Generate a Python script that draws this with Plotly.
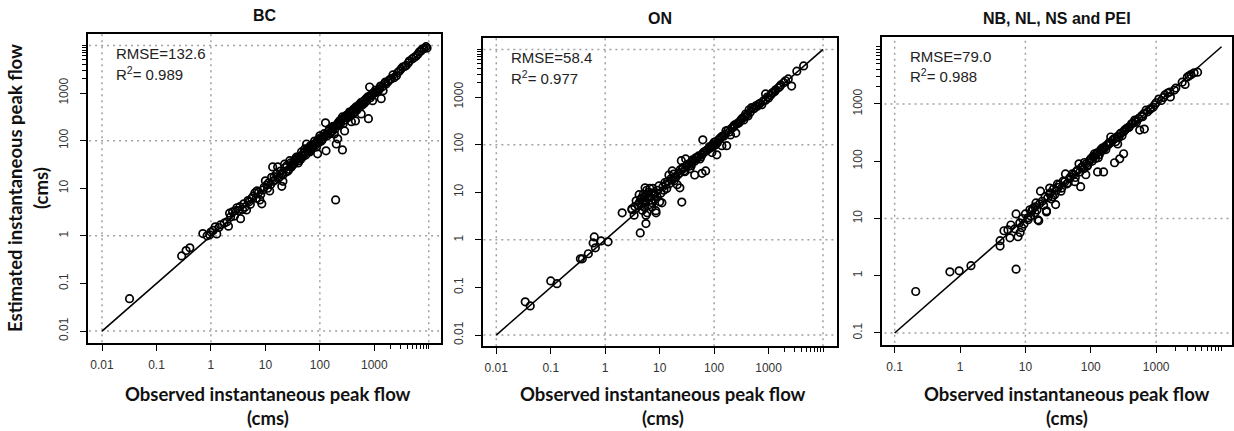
import plotly.graph_objects as go

W, H = 1234, 431

# ---------------- data ----------------
bc_obs = [0.032, 0.29, 0.35, 0.41, 0.71, 0.85, 0.95, 1.0, 1.1, 1.2, 1.28, 1.4, 1.75, 1.97, 2.1, 2.2, 2.5, 2.7,
          3.0, 3.2, 3.5, 3.4, 3.8, 4.0, 4.5, 5.0, 5.6, 6.4, 7.0, 7.9, 8.6, 9.0, 10.6, 10, 12, 12.5, 13, 13.6,
          15, 16, 16.8, 18, 20, 20, 21, 22.5, 24, 26, 28, 30, 32, 35, 37, 40, 42, 46, 48, 53, 55, 57, 60, 65,
          70, 75, 80, 87, 91, 95, 100, 107, 115, 127, 130, 140, 150, 160, 170, 185, 195, 200, 200, 213, 230,
          240, 260, 260, 285, 300, 320, 350, 380, 400, 430, 450, 460, 500, 530, 575, 610, 650, 710, 780, 820,
          870, 930, 1000, 1080, 1250, 1340, 1450, 1650, 1800, 2050, 2300, 2550, 2900, 3300, 3850, 4400, 4950,
          5900, 6700, 7600, 8900, 9300,
          25, 33, 44, 50, 62, 68, 85, 110, 120, 135, 180, 220, 250, 270, 330, 370, 420, 480, 560, 600, 750,
          900, 1150, 1550,
          1.5, 2.3, 2.8, 4.2, 4.8, 5.3, 6, 6.8, 7.5, 8.2, 9.5, 11, 11.5, 14, 14.5, 17, 19, 21, 23, 27, 29, 31,
          34, 38, 41, 45, 50, 52, 58, 63, 67, 72, 78, 83, 90, 98, 105, 112, 125, 145, 155, 165, 175, 190, 210,
          225, 245, 275, 290, 310, 340, 360, 390, 410, 440, 470, 520, 550, 590, 630, 680, 720, 800, 850, 950,
          1050, 1200, 1300, 1400, 1600, 1900, 2200, 2700, 3100, 3600, 4200, 5400, 6300, 7200, 8200]
bc_est = [0.048, 0.38, 0.49, 0.56, 1.12, 1.0, 1.05, 1.2, 1.3, 1.55, 1.1, 1.5, 1.85, 1.97, 1.6, 3.0, 3.2, 2.6,
          3.9, 3.4, 2.3, 4.1, 3.6, 4.7, 3.5, 5.2, 6.2, 8.0, 8.8, 5.7, 4.7, 9.2, 11.7, 14.3, 8.8, 12, 17, 28,
          15, 20, 28, 17, 11, 20, 14, 32, 22, 23, 38, 28, 32, 40, 45, 34, 38, 58, 48, 67, 50, 85, 62, 58,
          74, 80, 98, 74, 53, 90, 126, 98, 120, 237, 61, 138, 176, 150, 160, 138, 5.7, 205, 85, 109, 260,
          230, 64, 315, 160, 330, 300, 400, 250, 420, 390, 260, 510, 480, 540, 365, 650, 600, 760, 290, 1340,
          880, 690, 1000, 1050, 1230, 760, 1120, 1540, 1750, 2000, 2100, 2300, 2900, 3500, 3800, 4700, 5200,
          6000, 7300, 8400, 9400, 8800,
          30, 36, 44, 55, 70, 66, 88, 105, 140, 125, 190, 240, 280, 230, 350, 340, 460, 440, 620, 560, 820,
          950, 1100, 1600,
          1.7, 2.5, 3.4, 4.0, 5.5, 4.6, 6.8, 6.2, 8.2, 7.4, 10.5, 10, 13, 14, 17.5, 16, 23, 19, 27, 25, 34, 30,
          33, 42, 46, 41, 47, 58, 64, 60, 78, 69, 85, 80, 100, 110, 115, 108, 130, 160, 140, 185, 200, 175, 225,
          210, 265, 300, 270, 340, 320, 390, 420, 380, 470, 450, 560, 520, 640, 600, 720, 680, 850, 800, 1000,
          1150, 1150, 1400, 1350, 1700, 1900, 2400, 2700, 3200, 3600, 4300, 5600, 6500, 7600, 8600]

on_obs = [0.034, 0.042, 0.10, 0.13, 0.35, 0.38, 0.49, 0.63, 0.60, 0.66, 0.84, 1.13, 2.05, 3.1, 3.4, 4.4, 5.6,
          5.9, 7.2, 8.6, 4.0, 10, 25.5, 11, 3.1, 3.7, 4.2, 4.6, 5.4, 5.6, 7.0, 7.3, 8.5, 9.7, 13, 14.8, 17,
          18.5, 21, 23.5, 25, 30, 28, 34, 39, 44, 46, 60, 60, 70, 62, 73, 87, 91, 107, 112, 132, 139, 165,
          170, 200, 230, 250, 285, 330, 380, 440, 490, 580, 750, 880, 880, 1100, 1350, 1680, 2050, 2650,
          3300, 4400,
          5, 6, 6.5, 8, 9, 12, 15, 16, 19, 22, 26, 32, 36, 42, 50, 55, 65, 80, 95, 100, 120, 150, 180, 210,
          260, 300, 350, 420, 520, 650, 1000, 1200, 1500, 4.5, 5.2, 6.2, 7.5, 4.8, 6.8, 5.5,
          3.5, 4.2, 4.6, 5, 5.3, 5.8, 6.3, 6.6, 7, 7.8, 8.2, 9.2, 10.5, 11.5, 12.5, 13.5, 14, 17, 18, 20, 23,
          24, 27, 29, 31, 35, 38, 40, 44, 48, 52, 57, 62, 68, 75, 82, 90, 98, 105, 115, 125, 140, 160, 190,
          220, 240, 270, 310, 360, 400, 460, 550, 620, 700, 800, 950, 1150, 1300, 1600, 1900, 2300]
on_est = [0.05, 0.041, 0.137, 0.12, 0.40, 0.40, 0.51, 1.15, 0.86, 0.68, 0.95, 0.91, 3.7, 4.3, 3.3, 1.4, 2.2,
          3.7, 4.9, 3.7, 5.4, 6.3, 6.2, 6.0, 4.5, 6.6, 8.9, 5.2, 12.4, 3.3, 9.7, 6.0, 4.1, 13.6, 14.4, 23, 28,
          17.4, 14.4, 12.4, 46, 50, 28, 35, 42, 23, 53, 25, 61, 28, 126, 74, 86, 68, 99, 61, 139, 95, 195,
          95, 160, 250, 175, 285, 360, 440, 540, 600, 650, 690, 860, 1160, 1100, 1420, 1800, 2200, 1700,
          3500, 4500,
          6, 7.5, 5.5, 9, 8, 11, 15, 19, 21, 24, 30, 38, 31, 47, 55, 50, 70, 82, 100, 112, 125, 150, 200, 220,
          270, 310, 330, 400, 560, 700, 950, 1250, 1550, 7, 8, 10, 12, 4.2, 7.8, 6.5,
          5, 6, 7.5, 9, 4.8, 11, 8.5, 12, 6.8, 9.5, 7, 11, 9.5, 13, 16, 12, 17, 18, 24, 21, 25,
          30, 33, 27, 36, 40, 36, 48, 45, 52, 58, 55, 66, 72, 78, 90, 95, 94, 115, 110, 132, 150, 165, 185,
          230, 260, 280, 330, 380, 420, 480, 580, 640, 740, 830, 1000, 1200, 1300, 1650, 2000, 2400]

nb_obs = [0.21, 0.70, 0.97, 1.47, 7.2, 4.1, 4.1, 4.7, 5.4, 5.8, 6.0, 6.9, 7.2, 7.7, 8.2, 8.8, 8.3, 10.9, 11.7,
          14, 16, 14.5, 17, 20, 21, 23.5, 28, 29, 33, 15.5, 21, 23.5, 31, 41, 49, 57, 70, 66, 84, 90, 107,
          114, 127, 157, 142, 163, 202, 231, 277, 318, 258, 330, 390, 470, 560, 660, 620, 740, 830, 950,
          1100, 1360, 1620, 1650, 1900, 2770, 3000, 3400, 4300,
          12, 13, 18, 25, 27, 36, 38, 45, 52, 60, 75, 80, 95, 100, 120, 130, 150, 175, 190, 220, 240, 280,
          300, 360, 420, 500, 700, 900, 1200,
          9, 9.5, 10, 11, 12.5, 14, 15, 16.5, 19, 22, 24, 26, 30, 32, 35, 40, 43, 47, 55, 58, 63, 68, 72, 78,
          85, 88, 98, 105, 112, 118, 125, 135, 145, 160, 170, 185, 200, 215, 235, 255, 270, 290, 320, 340,
          380, 440, 480, 540, 600, 650, 800, 1000, 1300, 1500, 2000, 2500, 3200, 3800]
nb_est = [0.53, 1.17, 1.22, 1.5, 1.3, 3.3, 4.1, 6.1, 6.3, 4.6, 7.7, 6.6, 12, 4.8, 8.4, 6.9, 5.7, 10.3, 14.2,
          12.6, 9.1, 18.7, 30, 24, 13, 34, 26, 17.5, 39, 9.5, 13.6, 27, 40, 60, 53, 44, 36, 90, 58, 86, 120,
          135, 65, 65, 158, 178, 265, 94, 110, 135, 200, 350, 400, 525, 350, 365, 600, 730, 830, 970,
          1220, 1440, 1620, 1330, 1750, 2200, 2950, 3250, 3600,
          11, 15, 20, 22, 33, 34, 45, 42, 60, 66, 80, 95, 100, 110, 130, 115, 170, 190, 210, 240, 220, 300,
          280, 380, 450, 480, 780, 880, 1150,
          10, 8, 12, 9.5, 13.5, 16, 14, 18, 17, 23, 28, 24, 31, 35, 30, 44, 40, 50, 58, 52, 70, 65, 78, 74,
          90, 82, 105, 100, 120, 112, 140, 130, 150, 165, 160, 195, 210, 230, 250, 270, 260, 310, 330, 360,
          390, 460, 500, 560, 620, 680, 800, 1050, 1300, 1550, 1900, 2400, 3100, 3500]

panel_titles = ["BC", "ON", "NB, NL, NS and PEI"]
rmse_labels = ["RMSE=132.6", "RMSE=58.4", "RMSE=79.0"]
r2_labels = ["R<sup>2</sup>= 0.989", "R<sup>2</sup>= 0.977", "R<sup>2</sup>= 0.988"]
x_title = "Observed instantaneous peak flow"
y_title = "Estimated instantaneous peak flow"
unit = "(cms)"

ticks_a = [0.01, 0.1, 1, 10, 100, 1000]
ticks_b = [0.1, 1, 10, 100, 1000]
tick_text_a = ["0.01", "0.1", "1", "10", "100", "1000"]
tick_text_b = ["0.1", "1", "10", "100", "1000"]
minor_ticks = [2000, 3000, 4000, 5000, 6000, 7000, 8000, 9000, 10000]
grid_a = [0.01, 1, 100, 10000]
grid_b = [0.1, 10, 1000]
line_a = [0.01, 10000]
line_b = [0.1, 10000]

# ---------------- layout geometry (pixels) ----------------
boxes = [(88, 442, 34, 343), (484, 838, 38, 346), (883, 1234, 37, 345)]
xranges = [[-2.26, 4.23], [-2.24, 4.25], [-1.2, 4.16]]
yranges = [[-2.25, 4.24], [-2.23, 4.24], [-1.21, 4.17]]

def px(x):
    return x / W

def py(y):
    return 1 - y / H

fig = go.Figure()

panels = [
    (bc_obs, bc_est, ticks_a, tick_text_a, grid_a, line_a),
    (on_obs, on_est, ticks_a, tick_text_a, grid_a, line_a),
    (nb_obs, nb_est, ticks_b, tick_text_b, grid_b, line_b),
]

ARIAL = "Liberation Sans"
tickfont = dict(family=ARIAL, size=12, color="#333")

for i, (obs, est, tv, tt, grid, ln) in enumerate(panels):
    n = "" if i == 0 else str(i + 1)
    xa, ya = "x" + n, "y" + n
    # dotted grid
    for g in grid:
        fig.add_trace(go.Scatter(x=[g, g], y=[1e-4, 1e6], mode="lines", xaxis=xa, yaxis=ya,
                                 line=dict(color="#a0a0a0", width=1.5, dash="2px,4px"),
                                 showlegend=False, hoverinfo="skip"))
        fig.add_trace(go.Scatter(x=[1e-4, 1e6], y=[g, g], mode="lines", xaxis=xa, yaxis=ya,
                                 line=dict(color="#a0a0a0", width=1.5, dash="2px,4px"),
                                 showlegend=False, hoverinfo="skip"))
    # 1:1 line
    fig.add_trace(go.Scatter(x=ln, y=ln, mode="lines", xaxis=xa, yaxis=ya,
                             line=dict(color="black", width=1.6), showlegend=False))
    # points
    fig.add_trace(go.Scatter(x=obs, y=est, mode="markers", xaxis=xa, yaxis=ya,
                             marker=dict(symbol="circle-open", size=7.5, color="black",
                                         line=dict(width=1.7, color="black")),
                             showlegend=False))

    x0, x1, y0, y1 = boxes[i]
    common = dict(type="log", showline=True, linecolor="black", linewidth=2, mirror=True,
                  ticks="outside", ticklen=6, tickwidth=1.3, tickcolor="black",
                  tickmode="array", tickvals=tv, ticktext=tt, showgrid=False, zeroline=False,
                  tickfont=tickfont,
                  minor=dict(tickmode="array", tickvals=minor_ticks, ticks="outside", ticklen=4,
                             tickwidth=1, tickcolor="black", showgrid=False))
    fig.update_layout(**{
        ("xaxis" + n): dict(common, domain=[px(x0), min(px(x1), 1.0)], range=xranges[i],
                            anchor=ya, ticklabelstandoff=4),
        ("yaxis" + n): dict(common, domain=[py(y1), py(y0)], range=yranges[i],
                            anchor=xa, tickangle=-90, ticklabelstandoff=7),
    })

annotations = []
title_y = [15.5, 19, 19]
xt_centers = [268, 664, 1069]
for i in range(3):
    x0, x1, y0, y1 = boxes[i]
    cx = (x0 + min(x1, 1236)) / 2
    annotations.append(dict(text="<b>" + panel_titles[i] + "</b>", x=px(cx), y=py(title_y[i]),
                            xref="paper", yref="paper", showarrow=False, xanchor="center",
                            yanchor="middle",
                            font=dict(family=ARIAL, size=16, color="#111")))
    annotations.append(dict(text=rmse_labels[i], x=px(x0 + 26), y=py(y0 + 19), xref="paper",
                            yref="paper", showarrow=False, xanchor="left", yanchor="middle",
                            font=dict(family=ARIAL, size=15, color="#222")))
    annotations.append(dict(text=r2_labels[i], x=px(x0 + 26), y=py(y0 + 39), xref="paper",
                            yref="paper", showarrow=False, xanchor="left", yanchor="middle",
                            font=dict(family=ARIAL, size=15, color="#222")))
    annotations.append(dict(text="<b>" + x_title + "</b>", x=px(xt_centers[i]), y=py(394),
                            xref="paper", yref="paper", showarrow=False, xanchor="center",
                            yanchor="middle", font=dict(family="Lato", size=18.5, color="#111")))
    annotations.append(dict(text="<b>" + unit + "</b>", x=px(xt_centers[i]), y=py(418),
                            xref="paper", yref="paper", showarrow=False, xanchor="center",
                            yanchor="middle", font=dict(family="Lato", size=18.5, color="#111")))

annotations.append(dict(text="<b>" + y_title + "</b>", x=px(15), y=py(188), xref="paper",
                        yref="paper", showarrow=False, xanchor="center", yanchor="middle",
                        textangle=-90, font=dict(family="Lato", size=18.5, color="#111")))
annotations.append(dict(text="<b>" + unit + "</b>", x=px(41), y=py(188), xref="paper",
                        yref="paper", showarrow=False, xanchor="center", yanchor="middle",
                        textangle=-90, font=dict(family="Lato", size=18.5, color="#111")))

fig.update_layout(width=W, height=H, margin=dict(l=0, r=0, t=0, b=0),
                  paper_bgcolor="white", plot_bgcolor="white", annotations=annotations,
                  showlegend=False)

fig.write_html("out.html")
